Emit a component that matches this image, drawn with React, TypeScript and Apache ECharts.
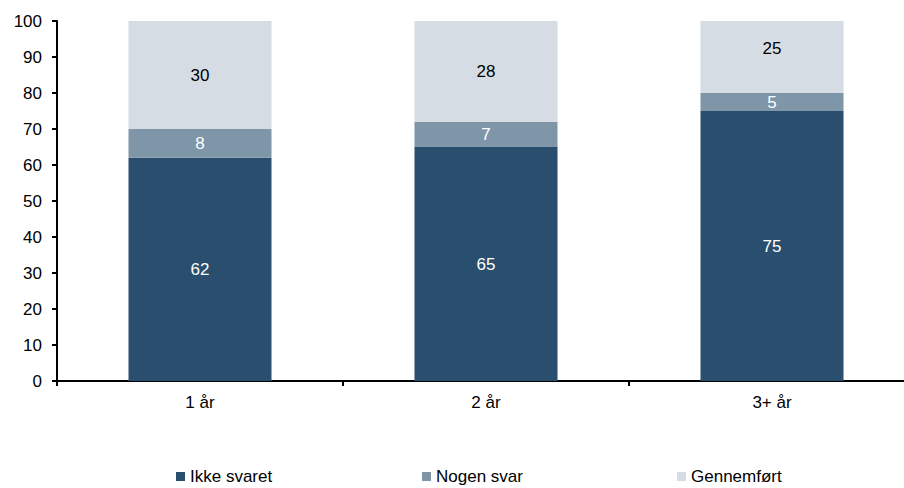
import React, { useEffect, useRef } from "react";
import * as echarts from "echarts";

const categories = ["1 år", "2 år", "3+ år"];
const ikkeSvaret = [62, 65, 75];
const nogenSvar = [8, 7, 5];
const gennemfoert = [30, 28, 25];
const yTicks = { min: 0, max: 100, interval: 10 };

const FONT = "Liberation Sans, Arial, sans-serif";

export default function App() {
  const ref = useRef<HTMLDivElement>(null);
  useEffect(() => {
    if (!ref.current) return;
    const chart = echarts.init(ref.current, undefined, { renderer: "svg" });
    const labelBase = { show: true, position: "inside", fontSize: 17, fontFamily: FONT };
    const legendBase = {
      orient: "horizontal",
      top: 468,
      padding: 0,
      itemWidth: 9,
      itemHeight: 9,
      icon: "rect",
      textStyle: { fontSize: 17, fontFamily: FONT, color: "#000" },
    };
    chart.setOption({
      animation: false,
      backgroundColor: "#fff",
      grid: { left: 57, top: 21, width: 858, height: 360, containLabel: false },
      legend: [
        { ...legendBase, left: 176, data: ["Ikke svaret"] },
        { ...legendBase, left: 422, data: ["Nogen svar"] },
        { ...legendBase, left: 677, data: ["Gennemført"] },
      ],
      xAxis: {
        type: "category",
        data: categories,
        axisLine: { show: true, lineStyle: { color: "#000", width: 2 } },
        axisTick: { show: true, length: 5, lineStyle: { color: "#000", width: 2 } },
        axisLabel: { fontSize: 17, fontFamily: FONT, color: "#000", margin: 13 },
      },
      yAxis: {
        type: "value",
        min: yTicks.min,
        max: yTicks.max,
        interval: yTicks.interval,
        splitLine: { show: false },
        axisLine: { show: true, lineStyle: { color: "#000", width: 2 } },
        axisTick: { show: true, length: 5, lineStyle: { color: "#000", width: 2 } },
        axisLabel: { fontSize: 17, fontFamily: FONT, color: "#000", margin: 15 },
      },
      series: [
        {
          name: "Ikke svaret",
          type: "bar",
          stack: "s",
          data: ikkeSvaret,
          barWidth: 143,
          itemStyle: { color: "#2A4F6E" },
          label: { ...labelBase, color: "#fff" },
        },
        {
          name: "Nogen svar",
          type: "bar",
          stack: "s",
          data: nogenSvar,
          barWidth: 143,
          itemStyle: { color: "#7F95A8" },
          label: { ...labelBase, color: "#fff" },
        },
        {
          name: "Gennemført",
          type: "bar",
          stack: "s",
          data: gennemfoert.map((v, i) =>
            i === 2 ? { value: v, label: { offset: [0, -9] } } : v
          ),
          barWidth: 143,
          itemStyle: { color: "#D5DCE3" },
          label: { ...labelBase, color: "#000" },
        },
      ],
    });
    return () => chart.dispose();
  }, []);
  return (
    <div
      style={{
        position: "fixed",
        left: 0,
        top: 0,
        width: 904,
        height: 488,
        overflow: "hidden",
        background: "#fff",
      }}
    >
      <div ref={ref} style={{ width: 930, height: 488 }} />
    </div>
  );
}
